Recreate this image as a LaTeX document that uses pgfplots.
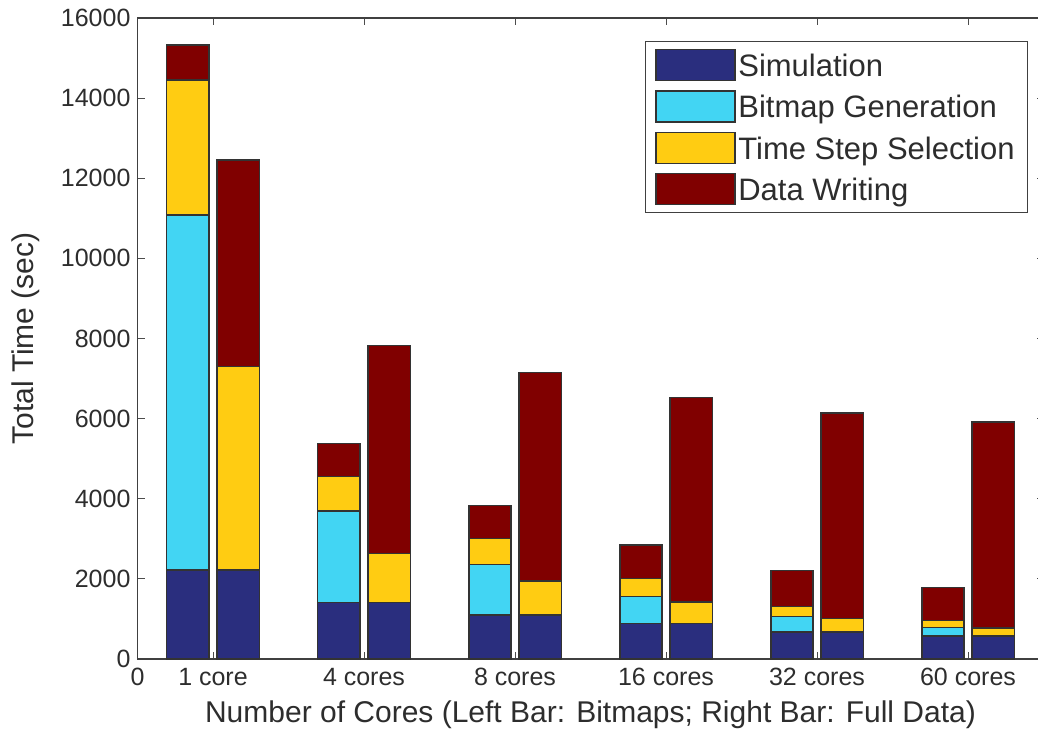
\documentclass[border=0pt]{standalone}
\usepackage{fontspec}
\setmainfont{Liberation Sans}
\usepackage{pgfplots}
\pgfplotsset{compat=1.18}
\usetikzlibrary{calc}
\definecolor{csim}{RGB}{42,46,126}
\definecolor{cbit}{RGB}{66,213,243}
\definecolor{ctss}{RGB}{255,204,18}
\definecolor{cdw}{RGB}{128,0,0}
\definecolor{ctxt}{RGB}{45,45,45}
\begin{document}
\begin{tikzpicture}
\begin{axis}[
  scale only axis,
  width=453pt, height=320.5pt,
  xmin=0.5, xmax=6.5, ymin=0, ymax=16000,
  ybar stacked, bar width=0.28,
  xtick={0.5,1,2,3,4,5,6},
  xticklabels={0,1 core,4 cores,8 cores,16 cores,32 cores,60 cores},
  ytick={0,2000,...,16000},
  scaled y ticks=false,
  /pgf/number format/set thousands separator={},
  /pgf/number format/assume math mode=true,
  tick align=inside, major tick length=3.5pt,
  tick style={black!70, line width=0.5pt},
  axis line style={black!75, line width=0.8pt},
  ticklabel style={font=\fontsize{12.5}{15}\selectfont, text=ctxt},
  xticklabel style={yshift=-1pt},
  every axis x label/.style={at={(axis description cs:0.5,0)}, yshift=-28pt, anchor=center,
    font=\fontsize{15}{18}\selectfont, text=ctxt},
  every axis y label/.style={at={(axis description cs:-0.1236,0.5)}, rotate=90, anchor=center,
    font=\fontsize{15}{18}\selectfont, text=ctxt},
  xlabel={Number of Cores (Left Bar: Bitmaps; Right Bar: Full Data)},
  ylabel={Total Time (sec)},
  legend cell align=left,
  legend style={at={(1,1)}, anchor=north east, xshift=-7.75pt, yshift=-11.5pt,
    draw=black!75, line width=0.6pt, inner xsep=5pt, inner ysep=3.6pt, row sep=4.5pt,
    font=\fontsize{15.5}{18}\selectfont, text=ctxt,
    nodes={inner xsep=1.4pt, inner ysep=0pt, text height=13.4pt, text depth=2.1pt}},
  every axis plot/.append style={draw=black!80, line width=0.7pt,
    legend image code/.code={\draw[#1, line width=0.7pt] (0pt,-7.75pt) rectangle (39.5pt,7.75pt);}},
]
\addplot[fill=csim] coordinates {
 (0.834,2220) (1.166,2220) (1.834,1410) (2.166,1410) (2.834,1100) (3.166,1100)
 (3.834,880) (4.166,880) (4.834,670) (5.166,670) (5.834,570) (6.166,570)};
\addplot[fill=cbit] coordinates {
 (0.834,8860) (1.166,0) (1.834,2280) (2.166,0) (2.834,1266) (3.166,0)
 (3.834,677) (4.166,0) (4.834,395) (5.166,0) (5.834,220) (6.166,0)};
\addplot[fill=ctss] coordinates {
 (0.834,3375) (1.166,5076) (1.834,860) (2.166,1226) (2.834,641) (3.166,849)
 (3.834,459) (4.166,544) (4.834,242) (5.166,345) (5.834,167) (6.166,205)};
\addplot[fill=cdw] coordinates {
 (0.834,875) (1.166,5162) (1.834,825) (2.166,5182) (2.834,824) (3.166,5206)
 (3.834,833) (4.166,5106) (4.834,899) (5.166,5125) (5.834,832) (6.166,5137)};
\legend{Simulation,Bitmap Generation,Time Step Selection,Data Writing}
\end{axis}
\pgfresetboundingbox
\path[use as bounding box] ($(current axis.south west)+(-68.75pt,-36.5pt)$) rectangle ($(current axis.north east)+(-2.75pt,9pt)$);
\end{tikzpicture}
\end{document}
